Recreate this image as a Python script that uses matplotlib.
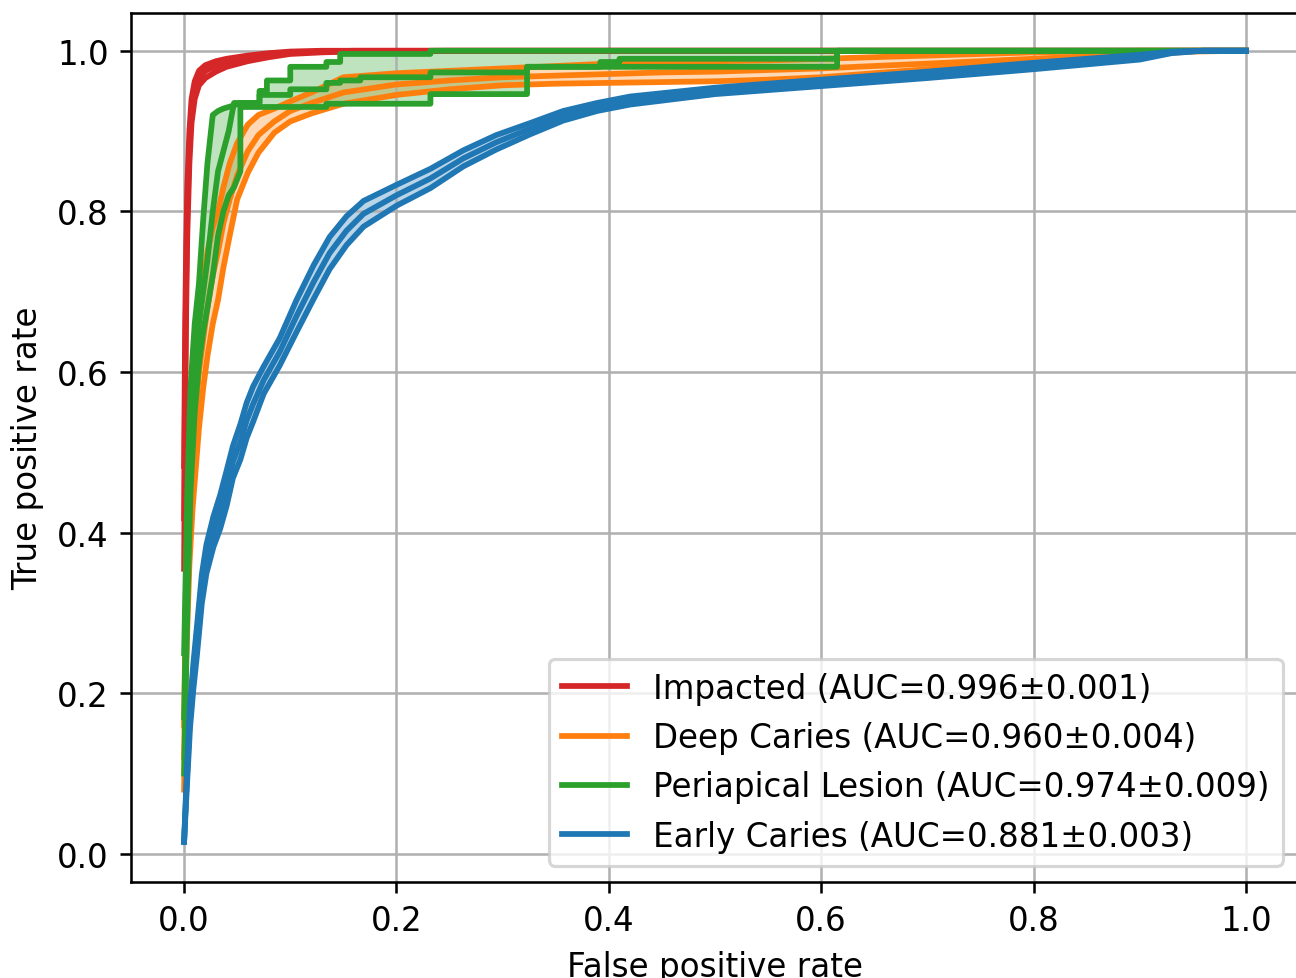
import matplotlib.pyplot as plt
import numpy as np

labels = ["Impacted", "Deep Caries", "Periapical Lesion", "Early Caries"]
auc_mean = [0.996, 0.960, 0.974, 0.881]
auc_std = [0.001, 0.004, 0.009, 0.003]
colors = ["tab:red", "tab:orange", "tab:green", "tab:blue"]

# Impacted: three runs on a shared fpr grid
fpr_impacted = [0, 0.001, 0.002, 0.003, 0.005, 0.007, 0.01, 0.014, 0.02, 0.03,
                0.04, 0.06, 0.08, 0.1, 0.13, 0.16, 0.25, 1.0]
tpr_impacted_1 = [0.483, 0.66, 0.76, 0.83, 0.9, 0.94, 0.962, 0.975, 0.982, 0.987,
                  0.99, 0.994, 0.997, 0.999, 1.0, 1.0, 1.0, 1.0]
tpr_impacted_2 = [0.418, 0.6, 0.72, 0.8, 0.88, 0.925, 0.952, 0.966, 0.975, 0.981,
                  0.986, 0.991, 0.995, 0.998, 0.999, 1.0, 1.0, 1.0]
tpr_impacted_3 = [0.355, 0.55, 0.68, 0.77, 0.86, 0.91, 0.94, 0.957, 0.966, 0.974,
                  0.98, 0.987, 0.992, 0.996, 0.998, 0.999, 1.0, 1.0]

# Deep caries
fpr_deep = [0, 0.002, 0.005, 0.008, 0.011, 0.014, 0.018, 0.022, 0.027, 0.032,
            0.037, 0.043, 0.05, 0.06, 0.07, 0.085, 0.1, 0.12, 0.15, 0.2,
            0.25, 0.3, 0.35, 0.4, 0.45, 0.5, 0.55, 0.6, 0.65, 0.7,
            0.75, 0.8, 0.85, 0.9, 0.95, 1.0]
tpr_deep_1 = [0.16, 0.36, 0.5, 0.57, 0.62, 0.67, 0.71, 0.75, 0.78, 0.8,
              0.83, 0.86, 0.885, 0.908, 0.92, 0.928, 0.937, 0.948, 0.967, 0.972,
              0.975, 0.978, 0.981, 0.984, 0.986, 0.987, 0.988, 0.99, 0.992, 0.994,
              0.996, 0.998, 0.999, 1.0, 1.0, 1.0]
tpr_deep_2 = [0.12, 0.3, 0.43, 0.5, 0.55, 0.6, 0.64, 0.68, 0.72, 0.75,
              0.785, 0.815, 0.845, 0.875, 0.895, 0.912, 0.925, 0.935, 0.948, 0.958,
              0.963, 0.967, 0.969, 0.971, 0.973, 0.974, 0.976, 0.978, 0.981, 0.984,
              0.987, 0.99, 0.993, 0.997, 1.0, 1.0]
tpr_deep_3 = [0.08, 0.24, 0.36, 0.43, 0.48, 0.53, 0.58, 0.62, 0.66, 0.69,
              0.73, 0.77, 0.815, 0.848, 0.873, 0.898, 0.912, 0.922, 0.934, 0.945,
              0.952, 0.957, 0.959, 0.96, 0.961, 0.962, 0.964, 0.967, 0.972, 0.977,
              0.982, 0.986, 0.99, 0.995, 0.999, 1.0]

# Periapical lesion (stepped, repeated fpr values mark the jumps)
fpr_periapical = [0, 0.003, 0.006, 0.01, 0.014, 0.018, 0.022, 0.027, 0.032, 0.037,
                  0.042, 0.047, 0.053, 0.053, 0.071, 0.071, 0.078, 0.078, 0.1, 0.1,
                  0.134, 0.134, 0.147, 0.147, 0.166, 0.166, 0.232, 0.232, 0.323, 0.323,
                  0.392, 0.392, 0.41, 0.41, 0.615, 0.615, 1.0]
tpr_periapical_1 = [0.25, 0.45, 0.58, 0.66, 0.71, 0.79, 0.86, 0.92, 0.925, 0.928,
                    0.93, 0.932, 0.935, 0.935, 0.935, 0.95, 0.95, 0.963, 0.963, 0.98,
                    0.98, 0.986, 0.986, 0.996, 0.996, 0.996, 0.996, 1.0, 1.0, 1.0,
                    1.0, 1.0, 1.0, 1.0, 1.0, 1.0, 1.0]
tpr_periapical_2 = [0.17, 0.38, 0.52, 0.6, 0.66, 0.7, 0.74, 0.8, 0.85, 0.875,
                    0.9, 0.935, 0.935, 0.935, 0.935, 0.945, 0.945, 0.945, 0.945, 0.952,
                    0.952, 0.96, 0.96, 0.963, 0.963, 0.967, 0.967, 0.973, 0.973, 0.98,
                    0.98, 0.986, 0.986, 0.99, 0.99, 1.0, 1.0]
tpr_periapical_3 = [0.1, 0.3, 0.45, 0.55, 0.61, 0.65, 0.68, 0.72, 0.77, 0.8,
                    0.82, 0.83, 0.85, 0.93, 0.93, 0.93, 0.93, 0.93, 0.93, 0.93,
                    0.93, 0.934, 0.934, 0.934, 0.934, 0.934, 0.934, 0.946, 0.946, 0.98,
                    0.98, 0.98, 0.98, 0.98, 0.98, 1.0, 1.0]

# Early caries
fpr_early = [0, 0.0025, 0.0056, 0.0088, 0.012, 0.0167, 0.021, 0.0276, 0.034, 0.04,
             0.046, 0.053, 0.059, 0.065, 0.075, 0.09, 0.106, 0.122, 0.137, 0.153,
             0.169, 0.2, 0.232, 0.263, 0.294, 0.326, 0.357, 0.389, 0.42, 0.5,
             0.6, 0.7, 0.8, 0.9, 0.93, 0.96, 1.0]
tpr_early_1 = [0.015, 0.1, 0.187, 0.238, 0.282, 0.348, 0.385, 0.42, 0.447, 0.477,
               0.508, 0.535, 0.562, 0.582, 0.607, 0.642, 0.69, 0.733, 0.768, 0.794,
               0.813, 0.833, 0.853, 0.876, 0.895, 0.91, 0.925, 0.935, 0.943, 0.954,
               0.964, 0.974, 0.985, 0.995, 0.999, 1.0, 1.0]
tpr_early_2 = [0.015, 0.09, 0.172, 0.222, 0.264, 0.33, 0.367, 0.401, 0.426, 0.455,
               0.488, 0.513, 0.54, 0.56, 0.59, 0.625, 0.67, 0.712, 0.748, 0.776,
               0.797, 0.82, 0.841, 0.866, 0.886, 0.903, 0.919, 0.93, 0.938, 0.95,
               0.96, 0.97, 0.981, 0.992, 0.998, 1.0, 1.0]
tpr_early_3 = [0.015, 0.08, 0.157, 0.206, 0.246, 0.312, 0.349, 0.382, 0.405, 0.433,
               0.468, 0.491, 0.518, 0.538, 0.573, 0.608, 0.65, 0.691, 0.728, 0.758,
               0.781, 0.807, 0.829, 0.856, 0.877, 0.896, 0.913, 0.925, 0.933, 0.946,
               0.956, 0.966, 0.977, 0.989, 0.997, 1.0, 1.0]

curves = [
    (fpr_impacted, [tpr_impacted_1, tpr_impacted_2, tpr_impacted_3]),
    (fpr_deep, [tpr_deep_1, tpr_deep_2, tpr_deep_3]),
    (fpr_periapical, [tpr_periapical_1, tpr_periapical_2, tpr_periapical_3]),
    (fpr_early, [tpr_early_1, tpr_early_2, tpr_early_3]),
]

plt.rcParams["font.size"] = 10.2

dpi = 230
fig = plt.figure(figsize=(1296 / dpi, 979 / dpi), dpi=dpi)
ax = fig.add_axes([131 / 1296, 1 - 883 / 979, (1299 - 131) / 1296, (883 - 14) / 979])

for name, m, s, color, (fpr, runs) in zip(labels, auc_mean, auc_std, colors, curves):
    runs = np.array(runs)
    ax.fill_between(fpr, runs.min(axis=0), runs.max(axis=0), color=color, alpha=0.3, lw=0)
    for i, tpr in enumerate(runs):
        lab = f"{name} (AUC={m:.3f}±{s:.3f})" if i == 0 else None
        ax.plot(fpr, tpr, color=color, lw=1.8, label=lab)

ax.set_xlim(-0.05, 1.05)
ax.set_ylim(-0.035, 1.047)
ax.set_xlabel("False positive rate")
ax.set_ylabel("True positive rate")
ax.grid(True)
ax.legend(loc="lower right")

fig.savefig("out.png", dpi=dpi)
